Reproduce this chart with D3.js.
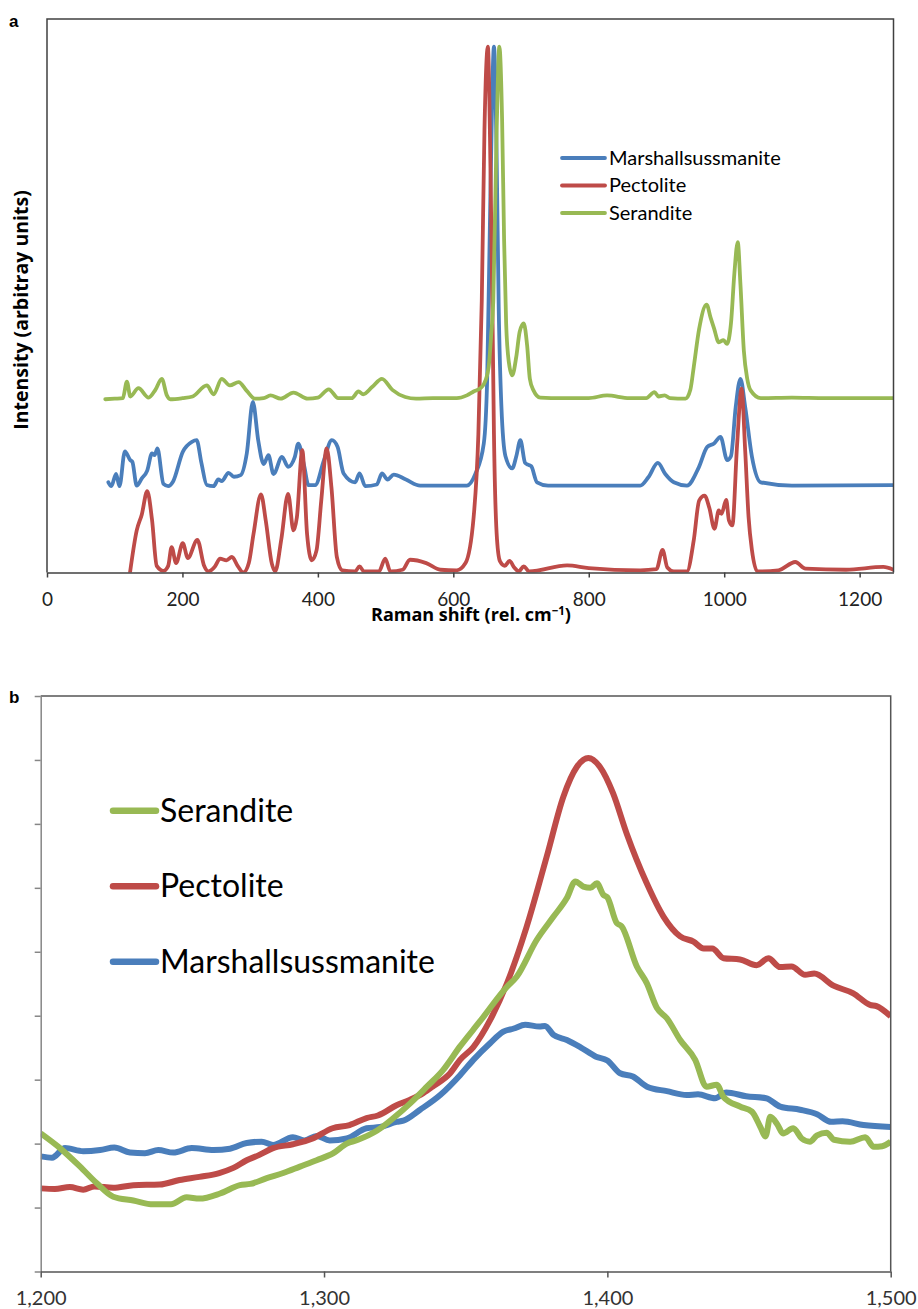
<!DOCTYPE html>
<html lang="en">
<head>
  <meta charset="UTF-8" />
  <title>Raman spectra</title>
  <script src="https://d3js.org/d3.v7.min.js"></script>
  <style>
    body { margin: 0; background: #fff; }
    text { font-family: Lato, "Open Sans", sans-serif; }
    .title { font-family: "Open Sans", sans-serif; font-weight: bold; }
  </style>
</head>
<body>
  <div id="chart"></div>

  <script>
    // ---- data ----
    const seriesNames = ["Marshallsussmanite", "Pectolite", "Serandite"];
    const seriesColors = ["#4A7EBB", "#BE4B48", "#98B954"];

    // panel a: [Raman shift, intensity (arbitrary, stacked)]
    const marshallA = [[90.6,16.3],[95,15.6],[102,17.8],[107,15.6],[115,21.9],[123,20.3],[126,20],[132.5,15.7],[140,17.0],[148,18.4],[155,21.5],[159,21.2],[163,22.4],[172,16.0],[179,15.6],[186,16.4],[200.5,21.8],[214,23.6],[221,23.9],[228,19.8],[236,15.8],[246,15.6],[253,16.8],[258,16.5],[268,18.0],[276,17.3],[286,17.6],[295,21.5],[304,30.8],[312,23.8],[320,19.6],[327,21.2],[334.5,17.8],[347,20.9],[356,19.1],[366,20.9],[371,23.3],[380,19.1],[386,15.8],[396,15.8],[409,20.3],[420.6,23.9],[429,22.7],[438,17.9],[455,16.3],[461.5,17.9],[470,15.6],[487,15.9],[494.6,17.9],[503,16.8],[512,17.7],[530,16.8],[551,15.7],[600,15.7],[620,15.7],[632.5,17.8],[645,23.3],[650,35],[655,70],[660,95],[664,75],[667,48],[671,30],[677,21],[687,18.8],[693,21],[699,23.9],[706,19.8],[710,19.5],[715,19.2],[723.6,16.3],[740,15.7],[876,15.7],[888,17.2],[902,19.8],[913,17.8],[925.6,16.3],[945,15.7],[962.5,19.0],[975,22.7],[985,23.3],[994.5,24.5],[1004.5,20.3],[1010,21],[1017,29.9],[1024,35.0],[1031,29.9],[1041,20.9],[1054,16.3],[1100,15.7],[1250,15.8]];
    const pectoliteA = [[122.6,0],[132.5,7.6],[140,10.5],[148,14.7],[155,9.6],[162,1.2],[172,0.3],[179,1.2],[184,4.6],[190.6,1.7],[200.5,5.3],[208,2.6],[222,5.9],[232,1.2],[238,0.2],[248,1.1],[255.6,2.5],[265,2.2],[273,2.8],[282,1.1],[290,0],[298,1.7],[305,7],[316,14.1],[323,9.4],[332,1.6],[337,0.2],[346,6.0],[356,14.2],[364,7.6],[369,10],[377,22.1],[384,7.0],[391,2.2],[398,4],[405,13],[413,22.4],[420,15.4],[428,2.8],[436,0.4],[455,0.2],[461.5,1.1],[468,0.2],[490,0.2],[499.5,2.5],[507,0.2],[525,0.5],[536,2.3],[560,1.7],[581,0.5],[605,0.4],[618,1.7],[630,10],[637,25],[642,49],[646,80],[651,95],[655,72],[658,45],[660,25],[664.5,6],[669,2],[676,1.2],[683,2.1],[690,0.9],[696.5,0.2],[704,1.1],[712,0.2],[768,1.3],[800,0.8],[876,0.4],[900,0.6],[909,4.1],[916,0.9],[925.6,0.2],[945,0.2],[955,5.8],[963,13],[971,13.9],[978,11.7],[985.6,7.9],[992,11.2],[996,10.6],[1003,13.1],[1007,9.4],[1012,8.5],[1019,23],[1025.6,33.2],[1031,22],[1036,10],[1041,4],[1049,0.2],[1080,0.4],[1105,1.9],[1120,0.7],[1180,0.5],[1235,1.0],[1250,0.5]];
    const serranditeA = [[86,31.3],[100,31.4],[112,31.5],[118,34.5],[123,31.8],[135,33.3],[150,31.6],[160,33],[169.5,35.0],[177,32],[182,31.3],[200,31.5],[215,31.8],[236,33.8],[246,32.2],[258,35.0],[270,33.8],[283,34.4],[295,32.8],[307,31.4],[320,31.5],[330,32.0],[345,31.4],[364,32.5],[385,31.4],[400,31.6],[416,33.1],[430,31.5],[450,31.5],[460,32.7],[467,32.2],[480,33.5],[494.6,35.0],[510,33],[529,31.7],[545,31.4],[570,31.5],[605,31.5],[620,32.0],[630,32.7],[640,33.3],[645,34.0],[652,37],[656,43],[659,49],[664,80],[668,95],[672,82],[675,60],[678,45],[682,38],[687,35.6],[693,39],[698,43.5],[704,45],[709,41],[713,35],[718,33],[728.5,31.6],[760,31.5],[800,31.5],[827,32.0],[860,31.5],[885,31.5],[897,32.6],[903,31.8],[912,32],[920,31.5],[943,31.4],[950,33],[955,37.1],[963,44],[974,48.4],[980,46],[985,44.1],[992,41.6],[999,42.0],[1004,41.3],[1010,45],[1015,54],[1020,59.7],[1024,52],[1029,40.1],[1034,35],[1039,32.9],[1054,31.5],[1100,31.6],[1150,31.5],[1200,31.5],[1250,31.5]];

    // panel b: [Raman shift, intensity]
    const marshallB = [[1200,1.80],[1204,1.78],[1208.6,1.93],[1215,1.88],[1221,1.90],[1226,1.94],[1231.5,1.86],[1236.8,1.85],[1241.5,1.90],[1246.8,1.86],[1253.3,1.93],[1261,1.90],[1266.8,1.92],[1272.7,2.01],[1278,2.03],[1282,1.98],[1289,2.10],[1293,2.05],[1297.4,2.12],[1302,2.05],[1308,2.08],[1315,2.24],[1319.8,2.26],[1325.6,2.34],[1328,2.36],[1333.9,2.53],[1341,2.76],[1348,3.07],[1352.7,3.31],[1358.6,3.57],[1363.3,3.75],[1367,3.80],[1371,3.86],[1376,3.83],[1378,3.84],[1381,3.70],[1385.7,3.62],[1390.4,3.51],[1396,3.36],[1400,3.30],[1404.5,3.10],[1409,3.05],[1414,2.89],[1421,2.82],[1428,2.76],[1432,2.77],[1438,2.71],[1442,2.80],[1449,2.74],[1456,2.71],[1461,2.58],[1468,2.53],[1474,2.46],[1479,2.34],[1483,2.35],[1490.4,2.29],[1500,2.26]];
    const pectoliteB = [[1200,1.30],[1205,1.29],[1210.3,1.32],[1215,1.28],[1219,1.33],[1225.6,1.31],[1232.7,1.35],[1242,1.36],[1249,1.43],[1256,1.48],[1263,1.54],[1268,1.62],[1272.7,1.74],[1277,1.82],[1282,1.93],[1289,1.99],[1296,2.08],[1303,2.24],[1309,2.29],[1315,2.40],[1319,2.44],[1325.6,2.60],[1330,2.68],[1335,2.79],[1338.6,2.90],[1344.5,3.10],[1348,3.31],[1352.7,3.51],[1358.6,3.93],[1364.5,4.50],[1371.5,5.39],[1378.6,6.49],[1384.5,7.43],[1389.2,7.89],[1393.3,8.03],[1397.4,7.89],[1402,7.48],[1406.8,6.85],[1413.9,6.07],[1419.8,5.55],[1425.7,5.24],[1430.4,5.16],[1434,5.05],[1437,5.05],[1441,4.90],[1446.8,4.88],[1452.7,4.79],[1456.8,4.90],[1461,4.76],[1465,4.77],[1469.8,4.64],[1473,4.66],[1479.8,4.47],[1486.8,4.35],[1492.7,4.17],[1495,4.15],[1500,3.99]];
    const serranditeB = [[1200,2.16],[1206.8,1.93],[1213.9,1.64],[1219.8,1.38],[1225.6,1.17],[1232.7,1.11],[1239.7,1.05],[1246,1.05],[1251.5,1.16],[1256,1.14],[1263.3,1.22],[1270.3,1.35],[1274,1.37],[1279.8,1.46],[1285.6,1.54],[1291.5,1.64],[1297.4,1.74],[1303.3,1.85],[1308,2.00],[1312,2.06],[1318.6,2.20],[1324.5,2.40],[1330.4,2.63],[1336.3,2.89],[1342,3.15],[1348,3.52],[1355,3.91],[1364.5,4.45],[1368,4.61],[1375,5.18],[1381,5.55],[1385.7,5.84],[1388.7,6.10],[1391.5,6.02],[1394,6.00],[1396.3,6.07],[1398.6,5.89],[1400,5.85],[1403.3,5.45],[1405,5.40],[1410.4,4.77],[1413.9,4.51],[1417.5,4.12],[1421,3.96],[1425.7,3.62],[1431,3.31],[1435,2.89],[1438.6,2.92],[1441,2.73],[1446.8,2.58],[1451,2.50],[1454,2.26],[1455.8,2.11],[1457.5,2.42],[1460,2.30],[1462,2.16],[1465.6,2.24],[1468.6,2.08],[1471.5,2.03],[1474,2.13],[1477.4,2.17],[1480,2.06],[1485.7,2.03],[1491,2.10],[1494,1.95],[1497,1.96],[1500,2.03]];

    const ticksA = [0, 200, 400, 600, 800, 1000, 1200];
    const ticksB = [1200, 1300, 1400, 1500];
    const legendOrderB = ["Serandite", "Pectolite", "Marshallsussmanite"];

    const svg = d3.select("#chart").append("svg")
      .attr("width", 918).attr("height", 1309);

    // ---------- panel a ----------
    const xA = d3.scaleLinear().domain([0, 1250]).range([47, 893.5]);
    const yA = d3.scaleLinear().domain([0, 100]).range([572.5, 19]);

    svg.append("text").attr("x", 9).attr("y", 27)
      .style("font-family", "Liberation Sans, Arial, sans-serif")
      .style("font-weight", "bold").style("font-size", "17px").text("a");

    svg.append("defs").append("clipPath").attr("id", "clipA")
      .append("rect").attr("x", 47).attr("y", 19).attr("width", 846.5).attr("height", 553.5);

    const lineA = d3.line().x(d => xA(d[0])).y(d => yA(d[1])).curve(d3.curveMonotoneX);
    const gA = svg.append("g").attr("clip-path", "url(#clipA)");
    [marshallA, pectoliteA, serranditeA].forEach((s, i) => {
      gA.append("path").datum(s)
        .attr("fill", "none").attr("stroke", seriesColors[i])
        .attr("stroke-width", 3.8).attr("stroke-linejoin", "round").attr("stroke-linecap", "round")
        .attr("d", lineA);
    });

    // frame
    svg.append("path")
      .attr("d", `M${xA(0)},${yA(0)}V${yA(100)}H${xA(1250)}V${yA(0)}`)
      .attr("fill", "none").attr("stroke", "#404040").attr("stroke-width", 1.5);

    const axA = svg.append("g").attr("transform", `translate(0,${yA(0)})`)
      .call(d3.axisBottom(xA).tickValues(ticksA).tickSizeInner(5).tickSizeOuter(0).tickPadding(15).tickFormat(d3.format("d")));
    axA.select(".domain").attr("stroke", "#404040").attr("stroke-width", 1.5);
    axA.selectAll(".tick line").attr("stroke", "#404040").attr("stroke-width", 1.5);
    axA.selectAll(".tick text").style("font-size", "19px").attr("fill", "#222").style("font-family", "Lato, sans-serif");

    const xTitle = svg.append("text").attr("class", "title").attr("x", 471).attr("y", 621)
      .attr("text-anchor", "middle").style("font-size", "18px");
    xTitle.append("tspan").text("Raman shift (rel. cm");
    xTitle.append("tspan").attr("dy", -6).style("font-size", "11.5px").text("\u22121");
    xTitle.append("tspan").attr("dy", 6).text(")");

    svg.append("text").attr("class", "title").attr("transform", "translate(28,310) rotate(-90)")
      .attr("text-anchor", "middle").style("font-size", "19.5px")
      .text("Intensity (arbitray units)");

    // legend a
    const legA = svg.append("g");
    seriesNames.forEach((n, i) => {
      const y = 158 + i * 27.5;
      legA.append("line").attr("x1", 562).attr("x2", 605).attr("y1", y).attr("y2", y)
        .attr("stroke", seriesColors[i]).attr("stroke-width", 3.8).attr("stroke-linecap", "round");
      legA.append("text").attr("x", 609).attr("y", y + 6.5).style("font-size", "20px").text(n);
    });

    // ---------- panel b ----------
    const xB = d3.scaleLinear().domain([1200, 1500]).range([40.7, 890.7]);
    const yB = d3.scaleLinear().domain([0, 9]).range([1271.5, 696]);

    svg.append("text").attr("x", 9).attr("y", 703)
      .style("font-family", "Liberation Sans, Arial, sans-serif")
      .style("font-weight", "bold").style("font-size", "17px").text("b");

    svg.select("defs").append("clipPath").attr("id", "clipB")
      .append("rect").attr("x", 40.7).attr("y", 696).attr("width", 850).attr("height", 575.5);

    const lineB = d3.line().x(d => xB(d[0])).y(d => yB(d[1])).curve(d3.curveMonotoneX);
    const gB = svg.append("g").attr("clip-path", "url(#clipB)");
    [marshallB, pectoliteB, serranditeB].forEach((s, i) => {
      gB.append("path").datum(s)
        .attr("fill", "none").attr("stroke", seriesColors[i])
        .attr("stroke-width", 6).attr("stroke-linejoin", "round")
        .attr("d", lineB);
    });

    // frame top/right
    svg.append("path")
      .attr("d", `M${xB(1200)},${yB(9)}H${xB(1500)}V${yB(0)}`)
      .attr("fill", "none").attr("stroke", "#555").attr("stroke-width", 1.5);

    const ayB = svg.append("g").attr("transform", `translate(${xB(1200)},0)`)
      .call(d3.axisLeft(yB).ticks(9).tickSizeInner(6).tickSizeOuter(0).tickFormat(""));
    ayB.select(".domain").attr("stroke", "#868686").attr("stroke-width", 1.5);
    ayB.selectAll(".tick line").attr("stroke", "#868686").attr("stroke-width", 1.5);

    const axB = svg.append("g").attr("transform", `translate(0,${yB(0)})`)
      .call(d3.axisBottom(xB).tickValues(ticksB).tickSizeInner(6).tickSizeOuter(0).tickPadding(13).tickFormat(d3.format(",")));
    axB.select(".domain").attr("stroke", "#555").attr("stroke-width", 1.5);
    axB.selectAll(".tick line").attr("stroke", "#555").attr("stroke-width", 1.5);
    axB.selectAll(".tick text").style("font-size", "20px").attr("fill", "#333").style("font-family", "Lato, sans-serif");

    // legend b
    const legB = svg.append("g");
    legendOrderB.forEach((n, i) => {
      const y = 810.7 + i * 75.5;
      const c = seriesColors[seriesNames.indexOf(n)];
      legB.append("line").attr("x1", 113).attr("x2", 156).attr("y1", y).attr("y2", y)
        .attr("stroke", c).attr("stroke-width", 6.5).attr("stroke-linecap", "round");
      legB.append("text").attr("x", 160).attr("y", y + 11).style("font-size", "32px").text(n);
    });
  </script>
</body>
</html>
